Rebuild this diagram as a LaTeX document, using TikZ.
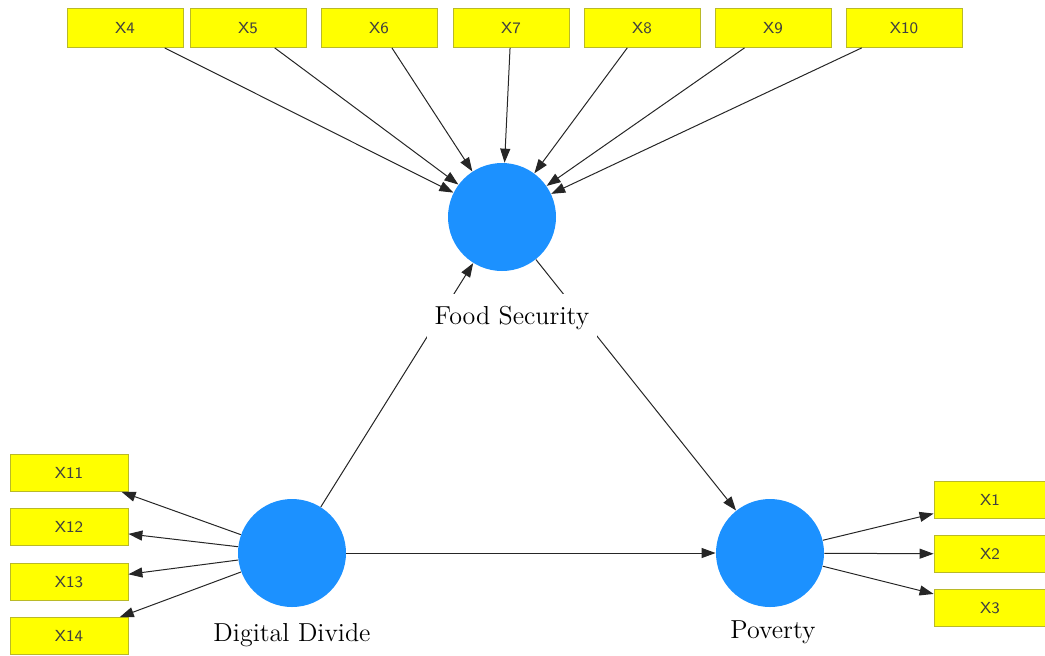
\documentclass[tikz,border=0pt]{standalone}
\usetikzlibrary{arrows.meta}
\definecolor{lvblue}{RGB}{28,145,255}
\definecolor{mvyellow}{RGB}{255,255,0}
\definecolor{mvedge}{RGB}{185,185,40}
\begin{document}
\begin{tikzpicture}[x=0.5pt,y=-0.5pt,
	item/.style={draw=mvedge,fill=mvyellow,minimum width=58pt,minimum height=19.5pt,inner sep=0pt,
		font=\sffamily\fontsize{8}{9}\selectfont,text=black!75},
	latent/.style={circle,fill=lvblue,minimum size=54pt,inner sep=0pt},
	lab/.style={fill=white,inner xsep=4pt,inner ysep=6pt,font=\fontsize{13}{15}\selectfont},
	conn/.style={-{Triangle[length=7pt,width=5pt]},line width=0.5pt,draw=black!85}]
		\useasboundingbox (0,0) rectangle (1045,655);
		% indicators
		\foreach \i/\x in {4/125,5/248,6/379,7/511,8/642,9/773,10/904}
			\node[item] (x\i) at (\x,28) {X\i};
		\foreach \i/\y in {11/473,12/527,13/582,14/636}
			\node[item,minimum width=59pt,minimum height=18.5pt] (x\i) at (69,\y) {X\i};
		\foreach \i/\y in {1/500,2/554,3/608}
			\node[item,minimum width=56pt,minimum height=18.5pt] (x\i) at (990,\y) {X\i};
		% constructs
		\node[latent] (fs) at (502,217) {};
		\node[latent] (dd) at (292,553) {};
		\node[latent] (pov) at (770,553) {};
		% paths
		\foreach \i in {4,...,10}
			\draw[conn] (x\i) -- (fs);
		\foreach \i in {11,...,14}
			\draw[conn] (dd) -- (x\i);
		\foreach \i in {1,2,3}
			\draw[conn] (pov) -- (x\i);
		\draw[conn] (dd) -- (fs);
		\draw[conn] (fs) -- (pov);
		\draw[conn] (dd) -- (pov);
		% labels
		\node[lab] (fslab) at (512,318) {Food Security};
		\node[lab] (ddlab) at (292,635) {Digital Divide};
		\node[lab] (povlab) at (773,632) {Poverty};
	\end{tikzpicture}
\end{document}
